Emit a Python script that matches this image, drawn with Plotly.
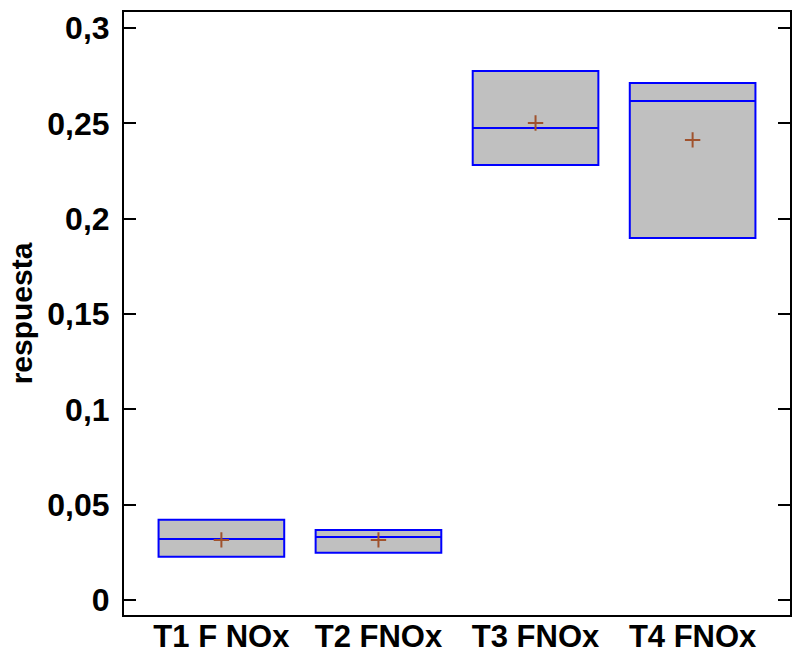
import plotly.graph_objects as go

categories = ["T1 F NOx", "T2 FNOx", "T3 FNOx", "T4 FNOx"]
minimum = [0.0226, 0.0247, 0.2281, 0.1899]
q1 = [0.0226, 0.0247, 0.2281, 0.1899]
median = [0.0320, 0.0330, 0.2475, 0.2617]
q3 = [0.0420, 0.0367, 0.2774, 0.2711]
maximum = [0.0420, 0.0367, 0.2774, 0.2711]
means = [0.0315, 0.0315, 0.2502, 0.2413]

y_tickvals = [0, 0.05, 0.1, 0.15, 0.2, 0.25, 0.3]
y_ticktext = ["0", "0,05", "0,1", "0,15", "0,2", "0,25", "0,3"]

font_main = dict(family="Liberation Sans, Arial, sans-serif", size=32, color="black", weight="bold")
font_x = dict(family="Liberation Sans, Arial, sans-serif", size=31, color="black", weight="bold")

fig = go.Figure()
fig.add_trace(go.Box(
    x=categories,
    q1=q1, median=median, q3=q3,
    lowerfence=minimum, upperfence=maximum,
    fillcolor="#c0c0c0",
    line=dict(color="#0000ff", width=2),
    width=0.8,
    whiskerwidth=0.25,
    boxpoints=False,
    showlegend=False,
    hoverinfo="skip",
))
fig.add_trace(go.Scatter(
    x=categories, y=means, mode="markers",
    marker=dict(symbol="cross-thin", size=11, line=dict(color="#a0522d", width=2)),
    showlegend=False, hoverinfo="skip",
))

fig.update_layout(
    width=795, height=660,
    margin=dict(l=124, r=5, t=12, b=45),
    plot_bgcolor="white", paper_bgcolor="white",
    font=font_main,
)
fig.update_xaxes(
    type="category", range=[-0.62, 3.62], automargin=False,
    showline=True, linecolor="black", linewidth=2, mirror=True,
    ticks="", showgrid=False, zeroline=False,
    tickfont=font_x, ticklabelstandoff=-7,
)
fig.update_yaxes(
    range=[-0.0079, 0.3084], automargin=False,
    tickvals=y_tickvals, ticktext=y_ticktext,
    showline=True, linecolor="black", linewidth=2, mirror="ticks",
    ticks="inside", ticklen=12, tickwidth=2, tickcolor="black",
    showgrid=False, zeroline=False,
    tickfont=font_main, ticklabelstandoff=6,
    title=dict(text="respuesta", font=dict(family="Liberation Sans, Arial, sans-serif", size=30, color="black", weight="bold"), standoff=6),
)

fig.write_html("out.html")
